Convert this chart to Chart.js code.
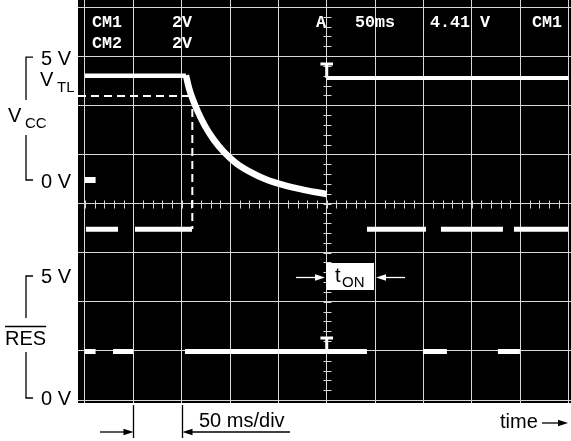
<!DOCTYPE html>
<html>
<head>
<meta charset="utf-8">
<script src="https://cdn.jsdelivr.net/npm/chart.js@4.4.1/dist/chart.umd.min.js"></script>
<style>
html,body{margin:0;padding:0;background:#fff;}
</style>
</head>
<body>
<canvas id="scope" width="571" height="441"></canvas>
<script>
// time in ms (50 ms/div, trigger at 0); both channels 2 V/div
const timeDivs = [-250,-200,-150,-100,-50,0,50,100,150,200,250];
const screenDivs = [0,1,2,3,4,5,6,7,8];

// VCC trace
const vccFlatT = [-250, -145.6];
const vccFlatV = [4.25, 4.25];
const decayT = [-145.6,-142.5,-138.3,-133.1,-125.9,-116.6,-106.3,-93.8,-79.3,-63.8,-45.2,-22.5,0];
const decayV = [4.27,3.75,3.26,2.77,2.20,1.63,1.14,0.69,0.33,0.04,-0.20,-0.41,-0.57];
const vccAfterT = [0, 250];
const vccAfterV = [4.15, 4.15];
const vccTrigMark = 4.72;
const vtl = 3.42;
const vtlTime = -139;

// RES trace (low = 0 V, high = 5 V)
const resHigh = 4.98;
const resHighStart = [-249,-198.3,41.6,118.1,193.6];
const resHighEnd   = [-215.8,-139.3,102.6,182.2,249.5];
const resLowStart  = [-250,-221,-146.6,99.5,177];
const resLowEnd    = [-239,-200.3,41.6,124.3,199.8];
const resTrigMark = 0.55;

// screen geometry: ground of each channel, in divisions from the bottom line
const screenMin = -0.061, screenMax = 8.1425;
const vccGround = 4.478, resGround = 0.987;
const voltsPerDiv = 2;

const gridColor = '#d8d8d8';
const trace = '#ffffff';

function pts(ts, vs){ return ts.map((t,i)=>({x:t, y:vs[i]})); }
function segs(starts, ends, v){
  const out = [];
  starts.forEach((s,i)=>{ out.push({x:s,y:v},{x:ends[i],y:v},{x:ends[i],y:null}); });
  return out;
}
function chAxis(gnd){
  return {type:'linear', display:false,
    min:(screenMin-gnd)*voltsPerDiv, max:(screenMax-gnd)*voltsPerDiv};
}

const scopePlugin = {
  id:'scope',
  beforeDraw(chart){
    const {ctx, chartArea:a} = chart;
    ctx.save();
    ctx.fillStyle = '#000';
    ctx.fillRect(a.left, a.top, a.right-a.left, a.bottom-a.top);
    ctx.restore();
  },
  beforeDatasetsDraw(chart){
    // minor ticks on the centre lines
    const {ctx} = chart;
    const xs = chart.scales.x, ys = chart.scales.y;
    const cx = Math.round(xs.getPixelForValue(0)) + 0.5;
    const cy = Math.round(ys.getPixelForValue(4)) + 0.5;
    ctx.save();
    ctx.strokeStyle = gridColor; ctx.lineWidth = 1;
    ctx.beginPath();
    for(let t=-250; t<=250; t+=10){
      const px = Math.round(xs.getPixelForValue(t)) + 0.5;
      ctx.moveTo(px, cy-4); ctx.lineTo(px, cy+4);
    }
    for(let d=0; d<=8; d+=0.2){
      const py = Math.round(ys.getPixelForValue(d)) + 0.5;
      ctx.moveTo(cx-4, py); ctx.lineTo(cx+4, py);
    }
    ctx.stroke();
    ctx.restore();
  },
  afterDraw(chart){
    const {ctx} = chart;
    const xs = chart.scales.x, yv = chart.scales.yVcc;
    ctx.save();

    // scope readout
    ctx.fillStyle = '#fff';
    ctx.font = 'bold 16.7px "Liberation Mono", monospace';
    ctx.fillText('CM1', 92, 26.5);
    ctx.fillText('2V', 172, 26.5);
    ctx.fillText('CM2', 92, 48);
    ctx.fillText('2V', 172, 48);
    ctx.fillText('A', 316, 26.5);
    ctx.fillText('50ms', 355, 26.5);
    ctx.fillText('4.41 V', 430, 26.5);
    ctx.fillText('CM1', 532, 26.5);

    const sans = '"Liberation Sans", Arial, sans-serif';
    const big = '20px ' + sans, small = '15px ' + sans;
    ctx.fillStyle = '#000';
    ctx.strokeStyle = '#000';
    ctx.lineWidth = 1.3;

    // VCC bracket
    const y5 = yv.getPixelForValue(5), y0 = yv.getPixelForValue(0);
    ctx.beginPath();
    ctx.moveTo(33, y5); ctx.lineTo(26, y5); ctx.lineTo(26, 100);
    ctx.moveTo(26, 135); ctx.lineTo(26, y0); ctx.lineTo(33, y0);
    ctx.stroke();
    ctx.font = big;
    ctx.fillText('5 V', 41, y5 + 7.5);
    ctx.fillText('0 V', 41, y0 + 7.5);
    ctx.fillText('V', 40, 86);
    ctx.fillText('V', 8, 122);
    ctx.font = small;
    ctx.fillText('TL', 57, 92);
    ctx.fillText('CC', 25, 128);

    // RES bracket
    ctx.beginPath();
    ctx.moveTo(33, 276); ctx.lineTo(26, 276); ctx.lineTo(26, 318);
    ctx.moveTo(26, 352); ctx.lineTo(26, 398); ctx.lineTo(33, 398);
    ctx.stroke();
    ctx.font = big;
    ctx.fillText('5 V', 41, 283);
    ctx.fillText('0 V', 41, 405);
    ctx.fillText('RES', 5, 345);
    const rw = ctx.measureText('RES').width;
    ctx.beginPath(); ctx.moveTo(5, 326.5); ctx.lineTo(5+rw, 326.5); ctx.stroke();

    // 50 ms/div marker
    const d1 = Math.round(xs.getPixelForValue(-200)) + 0.5;
    const d2 = Math.round(xs.getPixelForValue(-150)) + 0.5;
    ctx.beginPath();
    ctx.moveTo(d1, 405); ctx.lineTo(d1, 438);
    ctx.moveTo(d2, 405); ctx.lineTo(d2, 438);
    ctx.stroke();
    arrow(ctx, 100, d1, 432, '#000');
    arrow(ctx, 290, d2, 432, '#000');
    ctx.fillText('50 ms/div', 199, 427);
    ctx.fillText('time', 500, 428);
    arrow(ctx, 542, 568, 423, '#000');

    // tON box
    ctx.fillStyle = '#fff';
    ctx.fillRect(326, 263, 48, 27);
    ctx.fillStyle = '#000';
    ctx.font = big;
    ctx.fillText('t', 335, 282);
    ctx.font = '15px ' + sans;
    ctx.fillText('ON', 342, 287);
    arrow(ctx, 296, 325, 277.5, '#fff');
    arrow(ctx, 405, 376, 277.5, '#fff');

    ctx.restore();
  }
};

function arrow(ctx, x0, x1, y, color){
  const dir = Math.sign(x1 - x0);
  ctx.save();
  ctx.strokeStyle = color; ctx.fillStyle = color; ctx.lineWidth = 1.3;
  ctx.beginPath(); ctx.moveTo(x0, y); ctx.lineTo(x1 - dir*4, y); ctx.stroke();
  ctx.beginPath();
  ctx.moveTo(x1, y); ctx.lineTo(x1 - dir*10, y - 3.2); ctx.lineTo(x1 - dir*10, y + 3.2);
  ctx.closePath(); ctx.fill();
  ctx.restore();
}

const lineDs = (data, axis, width, extra) => Object.assign({
  data, yAxisID: axis, borderColor: trace, borderWidth: width,
  pointRadius: 0, fill: false, spanGaps: false, borderCapStyle: 'butt'
}, extra || {});

new Chart(document.getElementById('scope'), {
  type: 'line',
  data: {
    datasets: [
      // VTL threshold and crossing time (dashed)
      lineDs([{x:-257.2,y:vtl},{x:vtlTime,y:vtl}], 'yVcc', 2, {borderDash:[8,5]}),
      lineDs([{x:vtlTime,y:vtl},{x:vtlTime,y:-1.99}], 'yVcc', 2, {borderDash:[8,5]}),
      // VCC
      lineDs([{x:-250,y:0},{x:-239,y:0}], 'yVcc', 6),
      lineDs(pts(vccFlatT, vccFlatV), 'yVcc', 4.5),
      lineDs(pts(decayT, decayV), 'yVcc', 6.5, {cubicInterpolationMode:'monotone', borderJoinStyle:'round'}),
      lineDs([{x:-6.5,y:vccTrigMark},{x:6.5,y:vccTrigMark},{x:6.5,y:null},
              {x:0,y:vccTrigMark},{x:0,y:vccAfterV[0]}], 'yVcc', 3),
      lineDs(pts(vccAfterT, vccAfterV), 'yVcc', 4),
      // RES
      lineDs(segs(resHighStart, resHighEnd, resHigh), 'yRes', 5),
      lineDs(segs(resLowStart, resLowEnd, 0), 'yRes', 5),
      lineDs([{x:-6.5,y:resTrigMark},{x:6.5,y:resTrigMark},{x:6.5,y:null},
              {x:0,y:resTrigMark},{x:0,y:0}], 'yRes', 3)
    ]
  },
  options: {
    responsive: false,
    animation: false,
    events: [],
    layout: {padding: {left:78, top:0, right:0, bottom:38}},
    plugins: {legend:{display:false}, tooltip:{enabled:false}},
    scales: {
      x: {
        type:'linear', min:-257.2, max:252.6,
        afterBuildTicks(s){ s.ticks = timeDivs.map(v=>({value:v})); },
        afterFit(s){ s.height = 0; },
        ticks:{display:false},
        grid:{color:gridColor, lineWidth:1, drawTicks:false},
        border:{display:false}
      },
      y: {
        type:'linear', min:screenMin, max:screenMax,
        afterBuildTicks(s){ s.ticks = screenDivs.map(v=>({value:v})); },
        afterFit(s){ s.width = 0; },
        ticks:{display:false},
        grid:{color:gridColor, lineWidth:1, drawTicks:false},
        border:{display:false}
      },
      yVcc: chAxis(vccGround),
      yRes: chAxis(resGround)
    }
  },
  plugins: [scopePlugin]
});
</script>
</body>
</html>
